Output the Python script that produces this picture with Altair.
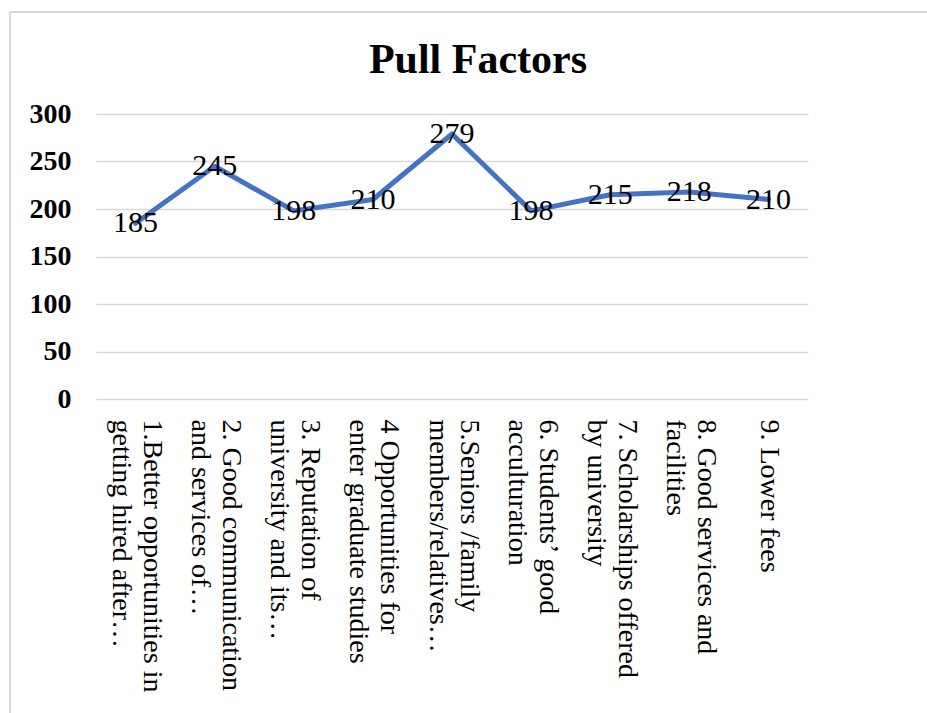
import altair as alt
import pandas as pd

# Pull factor survey counts
factors = [
    "1.Better opportunities in\ngetting hired after…",
    "2. Good communication\nand services of…",
    "3. Reputation of\nuniversity and its…",
    "4 Opportunities for\nenter graduate studies",
    "5.Seniors /family\nmembers/relatives…",
    "6. Students’ good\nacculturation",
    "7. Scholarships offered\nby university",
    "8. Good services and\nfacilities",
    "9. Lower fees",
]
counts = [185, 245, 198, 210, 279, 198, 215, 218, 210]
y_ticks = [0, 50, 100, 150, 200, 250, 300]

df = pd.DataFrame({"factor": factors, "count": counts})

SERIF = "Liberation Serif, Times New Roman, serif"

x_enc = alt.X(
    "factor:N",
    sort=factors,
    scale=alt.Scale(paddingOuter=0.5),
    axis=alt.Axis(
        title=None,
        labelAngle=90,
        labelAlign="left",
        labelBaseline="middle",
        labelExpr="split(datum.label, '\\n')",
        # centre two-line labels on their tick
        labelOffset={"condition": {"test": "indexof(datum.value, '\\n') >= 0", "value": 16}, "value": 0},
        labelFont=SERIF,
        labelFontSize=28,
        labelLineHeight=31,
        labelColor="black",
        labelPadding=20,
        labelLimit=400,
        ticks=False,
        domain=False,
        grid=False,
        labelOverlap=False,
    ),
)
y_enc = alt.Y(
    "count:Q",
    scale=alt.Scale(domain=[0, 300], nice=False),
    axis=alt.Axis(
        title=None,
        values=y_ticks,
        labelFont=SERIF,
        labelFontSize=28,
        labelFontWeight="bold",
        labelColor="black",
        labelPadding=25,
        ticks=False,
        domain=False,
        grid=True,
        gridColor="#d9d9d9",
        gridWidth=1.5,
    ),
)

base = alt.Chart(df)

line = base.mark_line(
    color="#4472C4", strokeWidth=5, strokeCap="round", strokeJoin="round"
).encode(x=x_enc, y=y_enc)

labels = base.mark_text(
    font=SERIF, fontSize=30, color="black", baseline="middle", align="center"
).encode(x=alt.X("factor:N", sort=factors), y="count:Q", text="count:Q")

# chart-area frame (left and top edges)
frame_left = alt.Chart(df).mark_rule(color="#d9d9d9", strokeWidth=1.5).encode(
    x=alt.value(-86), y=alt.value(-102), y2=alt.value(620)
)
frame_top = alt.Chart(df).mark_rule(color="#d9d9d9", strokeWidth=1.5).encode(
    x=alt.value(-86), x2=alt.value(860), y=alt.value(-102)
)

chart = (
    alt.layer(frame_left, frame_top, line, labels)
    .properties(
        width=712,
        height=285,
        title=alt.TitleParams(
            "Pull Factors",
            font=SERIF,
            fontSize=42,
            fontWeight="bold",
            color="black",
            anchor="middle",
            frame="group",
            baseline="alphabetic",
            offset=-104,
            dx=26,
        ),
        autosize=alt.AutoSizeParams(type="none"),
        padding={"left": 96, "top": 114, "right": 119, "bottom": 314},
        background="white",
    )
    .configure_view(stroke=None)
)

chart.save("out.html", embed_options={"renderer": "svg", "actions": False})
